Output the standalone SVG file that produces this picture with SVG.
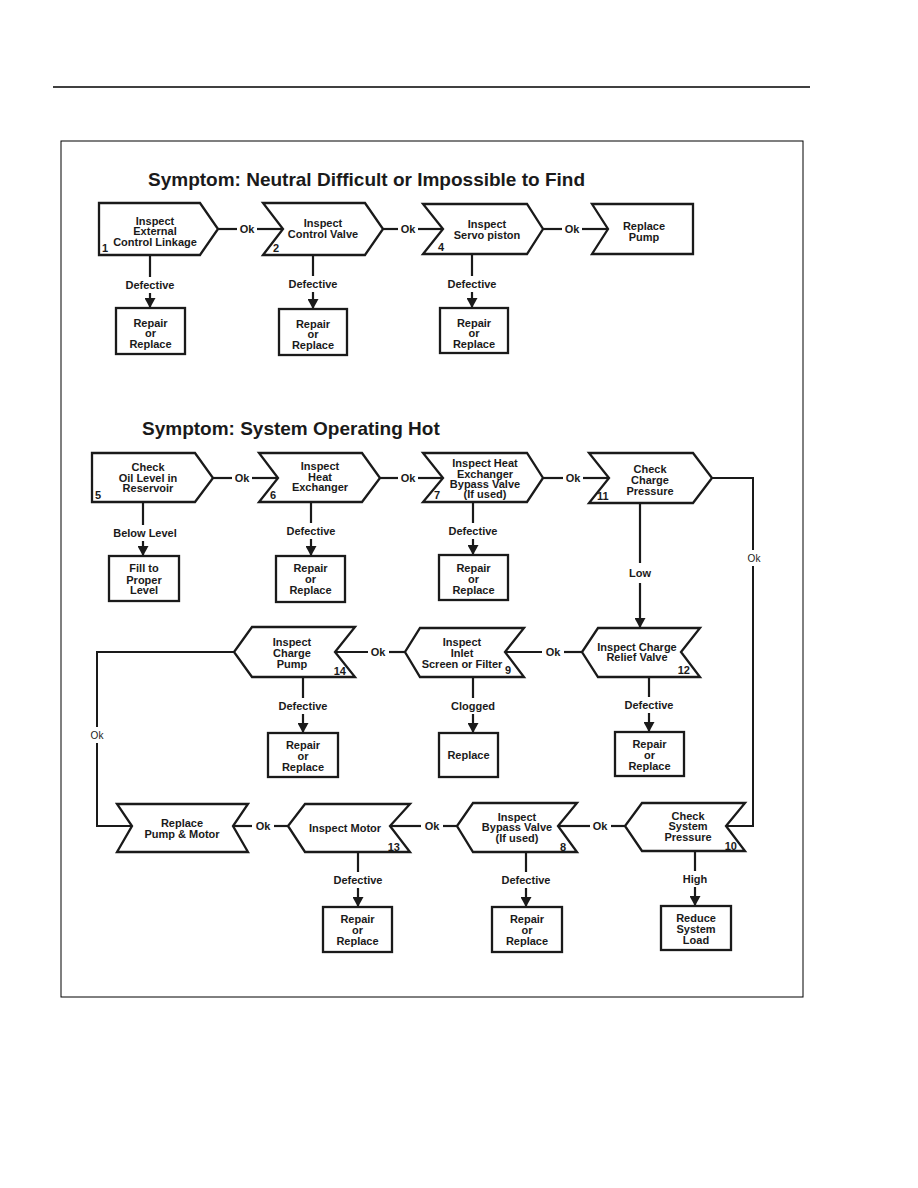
<svg xmlns="http://www.w3.org/2000/svg" width="918" height="1188" viewBox="0 0 918 1188">
<style>
.nd{fill:#fff;stroke:#1a1a1a;stroke-width:2.3;stroke-linejoin:miter}
.ln{fill:none;stroke:#1a1a1a;stroke-width:2.2}
.vl{fill:none;stroke:#1a1a1a;stroke-width:2}
text{font-family:"Liberation Sans",Arial,sans-serif;fill:#1a1a1a}
.t{font-size:11px;font-weight:bold;text-anchor:middle}
.n{font-size:11px;font-weight:bold}
.ne{font-size:11px;font-weight:bold;text-anchor:end}
.lb{font-size:11px;font-weight:bold;text-anchor:middle}
.lr{font-size:10px;text-anchor:middle}
.ti{font-size:19px;font-weight:bold}
</style>
<defs>
<marker id="ah" markerUnits="userSpaceOnUse" markerWidth="10" markerHeight="11" refX="10" refY="5.5" orient="auto">
<path d="M0,0 L10,5.5 L0,11 z" fill="#1a1a1a"/>
</marker>
</defs>
<rect width="918" height="1188" fill="#fff"/>
<line x1="53" y1="87" x2="810" y2="87" stroke="#000" stroke-width="1.3"/>
<rect x="61" y="141" width="742" height="856" fill="none" stroke="#000" stroke-width="1"/>
<text class="ti" x="148" y="186">Symptom: Neutral Difficult or Impossible to Find</text>
<text class="ti" x="142" y="435">Symptom: System Operating Hot</text>

<g id="connectors">
<!-- top row horizontal -->
<line class="ln" x1="218" y1="229" x2="237" y2="229"/><line class="ln" x1="257" y1="229" x2="283" y2="229"/>
<line class="ln" x1="383" y1="229" x2="398" y2="229"/><line class="ln" x1="418" y1="229" x2="443" y2="229"/>
<line class="ln" x1="543" y1="229" x2="562" y2="229"/><line class="ln" x1="582" y1="229" x2="608" y2="229"/>
<!-- top row down -->
<line class="ln" x1="150" y1="255" x2="150" y2="277"/><line class="ln" x1="150" y1="293" x2="150" y2="308" marker-end="url(#ah)"/>
<line class="ln" x1="313" y1="255" x2="313" y2="276"/><line class="ln" x1="313" y1="292" x2="313" y2="309" marker-end="url(#ah)"/>
<line class="ln" x1="472" y1="254" x2="472" y2="276"/><line class="ln" x1="472" y1="292" x2="472" y2="308" marker-end="url(#ah)"/>
<!-- row 2 horizontal -->
<line class="ln" x1="213" y1="478" x2="232" y2="478"/><line class="ln" x1="252" y1="478" x2="278" y2="478"/>
<line class="ln" x1="380" y1="478" x2="398" y2="478"/><line class="ln" x1="418" y1="478" x2="443" y2="478"/>
<line class="ln" x1="543" y1="478" x2="563" y2="478"/><line class="ln" x1="583" y1="478" x2="609" y2="478"/>
<!-- row 2 down -->
<line class="ln" x1="143" y1="502" x2="143" y2="525"/><line class="ln" x1="143" y1="541" x2="143" y2="556" marker-end="url(#ah)"/>
<line class="ln" x1="311" y1="502" x2="311" y2="523"/><line class="ln" x1="311" y1="539" x2="311" y2="556" marker-end="url(#ah)"/>
<line class="ln" x1="473" y1="502" x2="473" y2="523"/><line class="ln" x1="473" y1="539" x2="473" y2="555" marker-end="url(#ah)"/>
<line class="ln" x1="640" y1="503" x2="640" y2="563"/><line class="ln" x1="640" y1="583" x2="640" y2="628" marker-end="url(#ah)"/>
<!-- right loop -->
<polyline class="vl" points="712,478 753,478 753,550"/>
<polyline class="vl" points="753,566 753,826 727,826"/>
<!-- row 3 horizontal -->
<line class="ln" x1="582" y1="652" x2="564" y2="652"/><line class="ln" x1="542" y1="652" x2="505" y2="652"/>
<line class="ln" x1="405" y1="652" x2="389" y2="652"/><line class="ln" x1="368" y1="652" x2="335" y2="652"/>
<!-- left loop -->
<polyline class="vl" points="234,652 97,652 97,727"/>
<polyline class="vl" points="97,743 97,826 132,826"/>
<!-- row 3 down -->
<line class="ln" x1="303" y1="677" x2="303" y2="698"/><line class="ln" x1="303" y1="714" x2="303" y2="733" marker-end="url(#ah)"/>
<line class="ln" x1="473" y1="677" x2="473" y2="698"/><line class="ln" x1="473" y1="714" x2="473" y2="733" marker-end="url(#ah)"/>
<line class="ln" x1="649" y1="677" x2="649" y2="697"/><line class="ln" x1="649" y1="713" x2="649" y2="732" marker-end="url(#ah)"/>
<!-- row 4 horizontal -->
<line class="ln" x1="625" y1="826" x2="611" y2="826"/><line class="ln" x1="590" y1="826" x2="558" y2="826"/>
<line class="ln" x1="457" y1="826" x2="443" y2="826"/><line class="ln" x1="421" y1="826" x2="390" y2="826"/>
<line class="ln" x1="288" y1="826" x2="274" y2="826"/><line class="ln" x1="252" y1="826" x2="233" y2="826"/>
<!-- row 4 down -->
<line class="ln" x1="358" y1="852" x2="358" y2="872"/><line class="ln" x1="358" y1="888" x2="358" y2="907" marker-end="url(#ah)"/>
<line class="ln" x1="526" y1="852" x2="526" y2="872"/><line class="ln" x1="526" y1="888" x2="526" y2="907" marker-end="url(#ah)"/>
<line class="ln" x1="695" y1="851" x2="695" y2="871"/><line class="ln" x1="695" y1="887" x2="695" y2="906" marker-end="url(#ah)"/>
<!-- labels -->
<text class="lb" x="247" y="233">Ok</text>
<text class="lb" x="408" y="233">Ok</text>
<text class="lb" x="572" y="233">Ok</text>
<text class="lb" x="150" y="289">Defective</text>
<text class="lb" x="313" y="288">Defective</text>
<text class="lb" x="472" y="288">Defective</text>
<text class="lb" x="242" y="482">Ok</text>
<text class="lb" x="408" y="482">Ok</text>
<text class="lb" x="573" y="482">Ok</text>
<text class="lb" x="145" y="537">Below Level</text>
<text class="lb" x="311" y="535">Defective</text>
<text class="lb" x="473" y="535">Defective</text>
<text class="lb" x="640" y="577">Low</text>
<text class="lr" x="754" y="562">Ok</text>
<text class="lb" x="553" y="656">Ok</text>
<text class="lb" x="378" y="656">Ok</text>
<text class="lr" x="97" y="739">Ok</text>
<text class="lb" x="303" y="710">Defective</text>
<text class="lb" x="473" y="710">Clogged</text>
<text class="lb" x="649" y="709">Defective</text>
<text class="lb" x="600" y="830">Ok</text>
<text class="lb" x="432" y="830">Ok</text>
<text class="lb" x="263" y="830">Ok</text>
<text class="lb" x="358" y="884">Defective</text>
<text class="lb" x="526" y="884">Defective</text>
<text class="lb" x="695" y="883">High</text>
</g>

<g id="n1"><polygon class="nd" points="99,203 200,203 218,229 200,255 99,255"/>
<text class="t" x="155" y="225">Inspect</text><text class="t" x="155" y="235">External</text><text class="t" x="155" y="246">Control Linkage</text><text class="n" x="102" y="252">1</text></g>
<g id="n2"><polygon class="nd" points="263,203 365,203 383,229 365,255 263,255 283,229"/>
<text class="t" x="323" y="227">Inspect</text><text class="t" x="323" y="238">Control Valve</text><text class="n" x="273" y="252">2</text></g>
<g id="n4"><polygon class="nd" points="423,204 527,204 543,229 527,254 423,254 443,229"/>
<text class="t" x="487" y="228">Inspect</text><text class="t" x="487" y="239">Servo piston</text><text class="n" x="438" y="251">4</text></g>
<g id="rp"><polygon class="nd" points="592,204 693,204 693,254 592,254 608,229"/>
<text class="t" x="644" y="230">Replace</text><text class="t" x="644" y="241">Pump</text></g>
<g id="b1"><rect class="nd" x="116" y="308" width="69" height="46"/>
<text class="t" x="150.5" y="327">Repair</text><text class="t" x="150.5" y="337">or</text><text class="t" x="150.5" y="348">Replace</text></g>
<g id="b2"><rect class="nd" x="279" y="309" width="68" height="46"/>
<text class="t" x="313" y="328">Repair</text><text class="t" x="313" y="338">or</text><text class="t" x="313" y="349">Replace</text></g>
<g id="b4"><rect class="nd" x="440" y="308" width="68" height="45"/>
<text class="t" x="474" y="327">Repair</text><text class="t" x="474" y="337">or</text><text class="t" x="474" y="348">Replace</text></g>

<g id="n5"><polygon class="nd" points="92,453 195,453 213,478 195,502 92,502"/>
<text class="t" x="148" y="471">Check</text><text class="t" x="148" y="482">Oil Level in</text><text class="t" x="148" y="492">Reservoir</text><text class="n" x="95" y="499">5</text></g>
<g id="n6"><polygon class="nd" points="259,453 362,453 380,478 362,502 259,502 278,478"/>
<text class="t" x="320" y="470">Inspect</text><text class="t" x="320" y="481">Heat</text><text class="t" x="320" y="491">Exchanger</text><text class="n" x="270" y="499">6</text></g>
<g id="n7"><polygon class="nd" points="423,453 527,453 543,478 527,502 423,502 443,478"/>
<text class="t" x="485" y="467">Inspect Heat</text><text class="t" x="485" y="478">Exchanger</text><text class="t" x="485" y="488">Bypass Valve</text><text class="t" x="485" y="498">(If used)</text><text class="n" x="434" y="499">7</text></g>
<g id="n11"><polygon class="nd" points="589,453 693,453 712,478 693,503 589,503 609,478"/>
<text class="t" x="650" y="473">Check</text><text class="t" x="650" y="484">Charge</text><text class="t" x="650" y="495">Pressure</text><text class="n" x="597" y="500">11</text></g>
<g id="b5"><rect class="nd" x="109" y="556" width="70" height="45"/>
<text class="t" x="144" y="572">Fill to</text><text class="t" x="144" y="584">Proper</text><text class="t" x="144" y="594">Level</text></g>
<g id="b6"><rect class="nd" x="276" y="556" width="69" height="46"/>
<text class="t" x="310.5" y="572">Repair</text><text class="t" x="310.5" y="583">or</text><text class="t" x="310.5" y="594">Replace</text></g>
<g id="b7"><rect class="nd" x="439" y="555" width="69" height="45"/>
<text class="t" x="473.5" y="572">Repair</text><text class="t" x="473.5" y="583">or</text><text class="t" x="473.5" y="594">Replace</text></g>

<g id="n12"><polygon class="nd" points="598,628 700,628 681,652 700,677 598,677 582,652"/>
<text class="t" x="637" y="651">Inspect Charge</text><text class="t" x="637" y="661">Relief Valve</text><text class="ne" x="690" y="674">12</text></g>
<g id="n9"><polygon class="nd" points="420,628 524,628 505,652 524,677 420,677 405,652"/>
<text class="t" x="462" y="646">Inspect</text><text class="t" x="462" y="657">Inlet</text><text class="t" x="462" y="668">Screen or Filter</text><text class="ne" x="511" y="674">9</text></g>
<g id="n14"><polygon class="nd" points="252,627 355,627 335,652 355,677 252,677 234,652"/>
<text class="t" x="292" y="646">Inspect</text><text class="t" x="292" y="657">Charge</text><text class="t" x="292" y="668">Pump</text><text class="ne" x="346" y="675">14</text></g>
<g id="b14"><rect class="nd" x="268" y="733" width="70" height="44"/>
<text class="t" x="303" y="749">Repair</text><text class="t" x="303" y="760">or</text><text class="t" x="303" y="771">Replace</text></g>
<g id="b9"><rect class="nd" x="439" y="733" width="59" height="44"/>
<text class="t" x="468.5" y="759">Replace</text></g>
<g id="b12"><rect class="nd" x="615" y="732" width="69" height="44"/>
<text class="t" x="649.5" y="748">Repair</text><text class="t" x="649.5" y="759">or</text><text class="t" x="649.5" y="770">Replace</text></g>

<g id="rpm"><polygon class="nd" points="117,804 248,804 233,826 248,852 117,852 132,826"/>
<text class="t" x="182" y="827">Replace</text><text class="t" x="182" y="838">Pump &amp; Motor</text></g>
<g id="n13"><polygon class="nd" points="305,804 410,804 390,826 410,852 305,852 288,826"/>
<text class="t" x="345" y="832">Inspect Motor</text><text class="ne" x="400" y="851">13</text></g>
<g id="n8"><polygon class="nd" points="473,803 577,803 558,826 577,852 473,852 457,826"/>
<text class="t" x="517" y="821">Inspect</text><text class="t" x="517" y="831">Bypass Valve</text><text class="t" x="517" y="842">(If used)</text><text class="ne" x="566" y="851">8</text></g>
<g id="n10"><polygon class="nd" points="642,803 745,803 726,826 745,851 642,851 625,826"/>
<text class="t" x="688" y="820">Check</text><text class="t" x="688" y="830">System</text><text class="t" x="688" y="841">Pressure</text><text class="ne" x="737" y="850">10</text></g>
<g id="b13"><rect class="nd" x="323" y="907" width="69" height="45"/>
<text class="t" x="357.5" y="923">Repair</text><text class="t" x="357.5" y="934">or</text><text class="t" x="357.5" y="945">Replace</text></g>
<g id="b8"><rect class="nd" x="492" y="907" width="70" height="45"/>
<text class="t" x="527" y="923">Repair</text><text class="t" x="527" y="934">or</text><text class="t" x="527" y="945">Replace</text></g>
<g id="b10"><rect class="nd" x="661" y="906" width="70" height="44"/>
<text class="t" x="696" y="922">Reduce</text><text class="t" x="696" y="933">System</text><text class="t" x="696" y="944">Load</text></g>
</svg>
